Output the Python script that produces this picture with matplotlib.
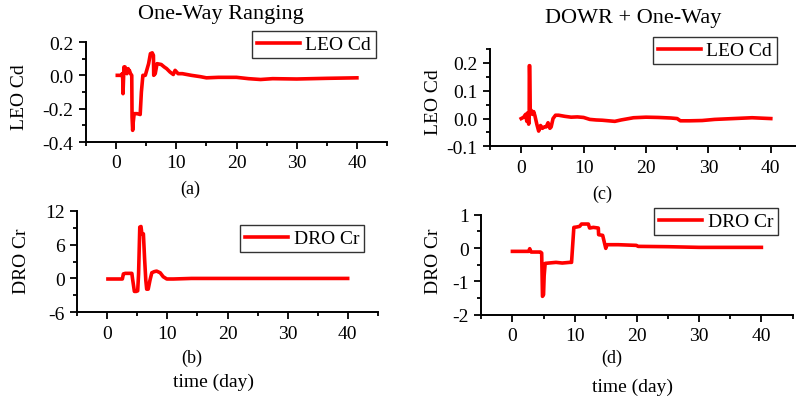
import matplotlib
matplotlib.use("Agg")
import matplotlib.pyplot as plt
from matplotlib.ticker import MultipleLocator, FormatStrFormatter

plt.rcParams['font.family'] = ['Liberation Serif', 'DejaVu Serif']
plt.rcParams['axes.unicode_minus'] = False

# (a) One-way ranging: LEO drag coefficient estimate
t_a = [0.2, 0.9, 1.0, 1.1, 1.15, 1.3, 1.4, 1.5, 1.6, 1.8, 2.0, 2.1, 2.2, 2.4,
       2.6, 2.65, 2.75, 2.85, 3.0, 3.5, 4.0, 4.2, 4.45, 4.85, 5.4, 5.7, 6.0,
       6.2, 6.25, 6.5, 6.8, 7.5, 8.0, 8.4, 8.95, 9.5, 9.8, 10.3, 11.0, 12.5,
       14.0, 15.0, 17.0, 20.0, 22.0, 24.0, 26.0, 30.0, 35.0, 40.0]
cd_a = [0.0, 0.0, 0.01, -0.02, -0.11, 0.05, 0.02, 0.05, 0.03, 0.01, 0.04,
        0.02, 0.03, 0.01, 0.0, -0.25, -0.33, -0.28, -0.23, -0.23, -0.235,
        -0.10, 0.0, 0.0, 0.07, 0.13, 0.135, 0.12, 0.0, 0.01, 0.07, 0.065,
        0.05, 0.04, 0.02, 0.005, 0.03, 0.01, 0.01, 0.0, -0.008, -0.015,
        -0.012, -0.012, -0.02, -0.025, -0.02, -0.022, -0.018, -0.015]

# (b) One-way ranging: DRO SRP coefficient estimate
t_b = [0.1, 2.5, 2.67, 3.0, 4.08, 4.2, 4.5, 4.8, 5.05, 5.2, 5.4, 5.6, 5.75,
       6.0, 6.2, 6.4, 6.55, 6.8, 7.1, 7.4, 7.8, 8.2, 8.8, 9.3, 9.9, 11.0,
       14.0, 20.0, 30.0, 40.0]
cr_b = [-0.1, -0.1, 0.8, 0.9, 0.9, -0.1, -2.3, -2.3, -2.2, 0.8, 9.1, 9.2,
        7.9, 7.9, 3.5, -0.3, -1.9, -1.9, -0.3, 1.0, 1.2, 1.3, 1.0, 0.3,
        -0.1, -0.1, 0.0, 0.0, 0.0, 0.0]

# (c) DOWR + one-way: LEO drag coefficient estimate
t_c = [0.0, 0.4, 0.7, 0.9, 1.0, 1.1, 1.2, 1.28, 1.3, 1.36, 1.45, 1.6, 1.8,
       2.0, 2.2, 2.5, 2.8, 3.1, 3.4, 3.7, 4.0, 4.3, 4.6, 4.8, 5.1, 5.5, 6.0,
       7.0, 8.0, 9.0, 10.0, 11.0, 12.0, 13.0, 15.0, 16.0, 18.0, 20.0, 22.0,
       24.0, 25.0, 25.5, 27.0, 29.0, 31.0, 34.0, 37.0, 40.0]
cd_c = [0.0, 0.005, 0.015, -0.01, 0.02, 0.0, -0.02, 0.0, 0.19, 0.19, 0.02,
        0.03, 0.015, 0.025, 0.01, -0.02, -0.045, -0.025, -0.035, -0.03,
        -0.03, -0.015, -0.035, -0.03, 0.0, 0.012, 0.012, 0.008, 0.005,
        0.006, 0.004, -0.003, -0.005, -0.006, -0.01, -0.005, 0.003, 0.005,
        0.004, 0.002, 0.0, -0.008, -0.008, -0.007, -0.003, 0.0, 0.003, 0.0]

# (d) DOWR + one-way: DRO SRP coefficient estimate
t_d = [0.0, 2.6, 2.78, 3.0, 4.5, 4.7, 4.83, 5.0, 5.1, 5.26, 7.0, 8.0, 9.2,
       9.5, 9.87, 10.3, 10.8, 11.1, 12.2, 12.4, 13.0, 13.8, 13.85, 14.5,
       15.0, 15.2, 17.0, 19.9, 20.2, 25.0, 30.0, 35.0, 40.0]
cr_d = [-0.1, -0.1, -0.02, -0.12, -0.12, -0.15, -1.45, -1.4, -0.83, -0.46,
        -0.43, -0.45, -0.43, -0.43, 0.62, 0.63, 0.65, 0.72, 0.72, 0.6, 0.62,
        0.6, 0.4, 0.38, -0.01, 0.1, 0.1, 0.08, 0.05, 0.04, 0.02, 0.02, 0.02]

W, H = 796, 402
fig = plt.figure(figsize=(W / 100, H / 100), dpi=100)


def frac_box(left, right, top, bottom):
    return [left / W, 1 - bottom / H, (right - left) / W, (bottom - top) / H]


def style_axes(ax, ylim, ymaj, ymin, yfmt):
    ax.set_xlim(-5, 45)
    ax.set_ylim(*ylim)
    ax.xaxis.set_major_locator(MultipleLocator(10))
    ax.xaxis.set_minor_locator(MultipleLocator(5))
    ax.yaxis.set_major_locator(MultipleLocator(ymaj))
    ax.yaxis.set_minor_locator(MultipleLocator(ymin))
    ax.yaxis.set_major_formatter(FormatStrFormatter(yfmt))
    for s in ('top', 'right'):
        ax.spines[s].set_visible(False)
    for s in ('left', 'bottom'):
        ax.spines[s].set_linewidth(1.4)
    ax.spines['bottom'].set_clip_on(False)
    ax.tick_params(which='major', direction='out', length=5, width=1.3,
                   labelsize=14, pad=4)
    ax.tick_params(which='minor', direction='out', length=3, width=1.3)
    ax.patch.set_visible(False)


def add_legend(ax, label, right, top):
    leg = ax.legend([label], loc='upper right',
                    bbox_to_anchor=(right / W, 1 - top / H),
                    bbox_transform=fig.transFigure, fontsize=14,
                    frameon=True, fancybox=False, handlelength=2.2,
                    handletextpad=0.3, borderpad=0.25, borderaxespad=0)
    leg.get_frame().set_edgecolor('black')
    leg.get_frame().set_linewidth(1.0)


red = '#ff0000'
lw = 2.6

ax_a = fig.add_axes(frac_box(86, 387, 43, 143))
ax_a.plot(t_a, cd_a, color=red, lw=lw)
style_axes(ax_a, (-0.4, 0.2), 0.2, 0.1, '%.1f')
add_legend(ax_a, 'LEO Cd', 376, 32)

ax_c = fig.add_axes(frac_box(490, 802, 50, 147.4))
ax_c.plot(t_c, cd_c, color=red, lw=lw)
style_axes(ax_c, (-0.1, 0.25), 0.1, 0.05, '%.1f')
add_legend(ax_c, 'LEO Cd', 777, 38)

ax_b = fig.add_axes(frac_box(77.3, 377.7, 211.7, 313.3))
ax_b.plot(t_b, cr_b, color=red, lw=lw)
style_axes(ax_b, (-6, 12), 6, 3, '%d')
add_legend(ax_b, 'DRO Cr', 364, 226)

ax_d = fig.add_axes(frac_box(481.3, 792.5, 215.7, 315.7))
ax_d.plot(t_d, cr_d, color=red, lw=lw)
style_axes(ax_d, (-2, 1), 1, 0.5, '%d')
add_legend(ax_d, 'DRO Cr', 778, 209)


def ftext(x, y, s, size=14, **kw):
    fig.text(x / W, 1 - y / H, s, fontsize=size, ha='center', va='center', **kw)


ftext(221, 14, 'One-Way Ranging', 16)
ftext(633, 19, 'DOWR + One-Way', 16)
ftext(20, 97, 'LEO Cd', rotation=90)
ftext(433, 102, 'LEO Cd', rotation=90)
ftext(22, 261, 'DRO Cr', rotation=90)
ftext(433, 261, 'DRO Cr', rotation=90)
ftext(190, 189, '(a)', 13)
ftext(602, 194, '(c)', 13)
ftext(192, 358, '(b)', 13)
ftext(612, 358, '(d)', 13)
ftext(213, 382, 'time (day)')
ftext(632, 387, 'time (day)')

fig.savefig('out.png', dpi=100)
